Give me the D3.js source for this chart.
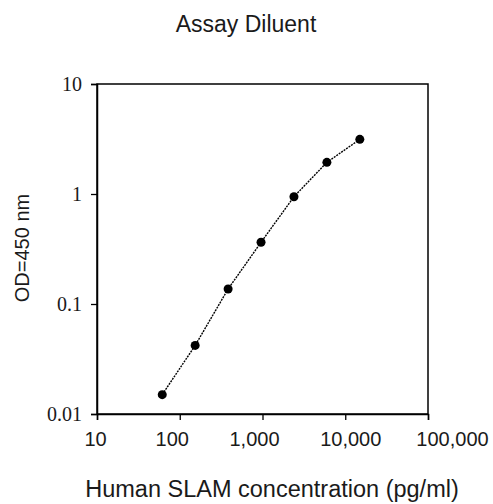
<!DOCTYPE html>
<html>
<head>
<meta charset="utf-8">
<script src="https://cdn.jsdelivr.net/npm/d3@7"></script>
<style>
  html, body { margin: 0; padding: 0; background: #fff; }
  svg { display: block; }
</style>
</head>
<body>
<svg id="chart" width="493" height="504"></svg>
<script>
// ---- Data ----
const concentrations = [61.44, 153.6, 384, 960, 2400, 6000, 15000];
const odValues = [0.015, 0.042, 0.137, 0.364, 0.945, 1.94, 3.14];
const xTickValues = [10, 100, 1000, 10000, 100000];
const xTickLabels = ["10", "100", "1,000", "10,000", "100,000"];
const yTickValues = [0.01, 0.1, 1, 10];
const yTickLabels = ["0.01", "0.1", "1", "10"];
const chartTitle = "Assay Diluent";
const xTitle = "Human SLAM concentration (pg/ml)";
const yTitle = "OD=450 nm";

(function () {
// ---- Layout ----
const pLeft = 97, pRight = 428, pTop = 84, pBottom = 414;
const svg = d3.select("#chart");
const textColor = "#1a1a1a";

const x = d3.scaleLog().domain([10, 100000]).range([pLeft, pRight]);
const y = d3.scaleLog().domain([0.01, 10]).range([pBottom, pTop]);

// Frame
svg.append("rect")
  .attr("x", pLeft).attr("y", pTop)
  .attr("width", pRight - pLeft).attr("height", pBottom - pTop)
  .attr("fill", "none").attr("stroke", "#000").attr("stroke-width", 1.5);

// X axis
const xLabelShift = [-2, -8, -8.5, 5, 24];
const xAxis = svg.append("g")
  .attr("transform", `translate(0,${pBottom})`)
  .call(d3.axisBottom(x)
    .tickValues(xTickValues)
    .tickSize(6)
    .tickPadding(12)
    .tickFormat((d, i) => xTickLabels[i]));
xAxis.select(".domain").attr("stroke", "#000").attr("stroke-width", 1.5);
xAxis.selectAll(".tick line").attr("stroke", "#000").attr("stroke-width", 1.3);
xAxis.selectAll(".tick text")
  .attr("dx", (d, i) => xLabelShift[i])
  .attr("fill", textColor)
  .style("font-family", "'Liberation Sans', Arial, sans-serif")
  .style("font-size", "20px");

// Y axis
const yAxis = svg.append("g")
  .attr("transform", `translate(${pLeft},0)`)
  .call(d3.axisLeft(y)
    .tickValues(yTickValues)
    .tickSize(6)
    .tickPadding(9)
    .tickFormat((d, i) => yTickLabels[i]));
yAxis.select(".domain").attr("stroke", "#000").attr("stroke-width", 1.5);
yAxis.selectAll(".tick line").attr("stroke", "#000").attr("stroke-width", 1.3);
yAxis.selectAll(".tick text")
  .attr("fill", textColor)
  .style("font-family", "'Liberation Serif', 'Times New Roman', serif")
  .style("font-size", "20px");

// Line
const pts = concentrations.map((c, i) => [c, odValues[i]]);
svg.append("path")
  .datum(pts)
  .attr("fill", "none")
  .attr("stroke", "#000")
  .attr("stroke-width", 1.4)
  .attr("stroke-dasharray", "2,1")
  .attr("d", d3.line().x(d => x(d[0])).y(d => y(d[1])));

// Markers
svg.append("g").selectAll("circle")
  .data(pts)
  .join("circle")
  .attr("cx", d => x(d[0]))
  .attr("cy", d => y(d[1]))
  .attr("r", 4.5)
  .attr("fill", "#000");

// Titles
svg.append("text")
  .attr("x", 246).attr("y", 32)
  .attr("text-anchor", "middle")
  .attr("fill", textColor)
  .style("font-family", "'Liberation Sans', Arial, sans-serif")
  .style("font-size", "23px")
  .text(chartTitle);

svg.append("text")
  .attr("x", 272).attr("y", 497)
  .attr("text-anchor", "middle")
  .attr("fill", textColor)
  .style("font-family", "'Liberation Sans', Arial, sans-serif")
  .style("font-size", "23.5px")
  .text(xTitle);

svg.append("text")
  .attr("transform", `translate(29,248) rotate(-90)`)
  .attr("text-anchor", "middle")
  .attr("fill", textColor)
  .style("font-family", "'Liberation Sans', Arial, sans-serif")
  .style("font-size", "20px")
  .text(yTitle);
})();
</script>
</body>
</html>
